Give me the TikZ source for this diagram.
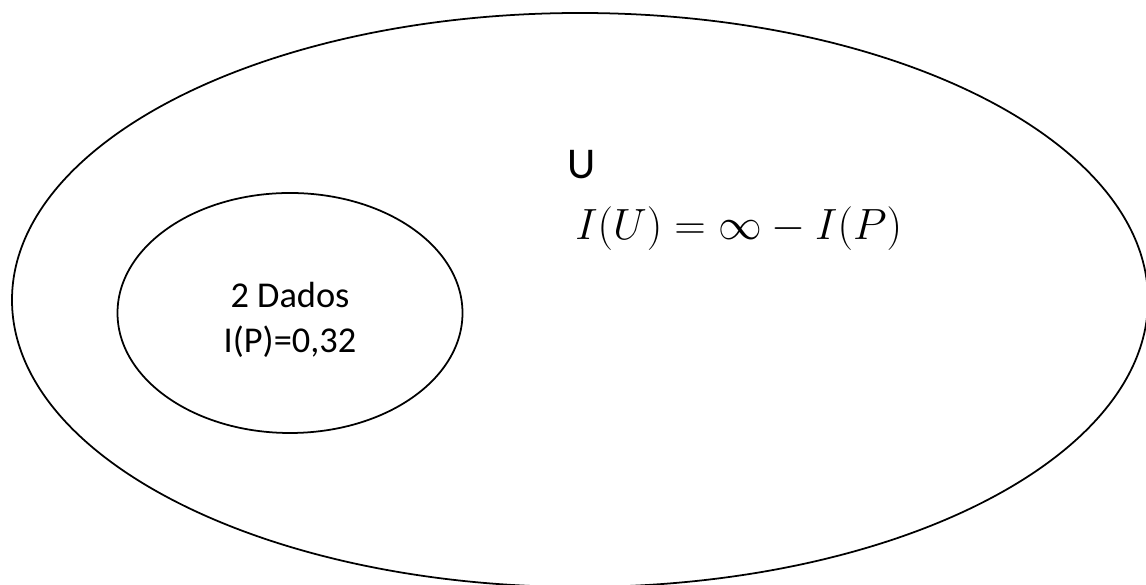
\documentclass[tikz,border=0pt]{standalone}
\usepackage{fontspec}
\setmainfont{Carlito}
\usetikzlibrary{shapes.geometric}

\begin{document}
\begin{tikzpicture}[every node/.style={font=\fontsize{20.7}{25.5}\selectfont},
        set/.style={draw=black, line width=1pt, ellipse, inner sep=0pt}]
      \useasboundingbox (0,0) rectangle (22.92,11.7);
      \node[set, minimum width=22.72cm, minimum height=11.48cm] (U) at (11.6,5.7) {};
      \node[set, minimum width=6.9cm, minimum height=4.8cm] (P) at (5.8,5.44) {};
      \node[align=center] (Ptext) at (5.8,5.3) {2 Dados\\I(P)=0,32};
      \node[anchor=west, font=\fontsize{25}{30}\selectfont, inner sep=0pt] (Ulabel) at (11.34,8.4) {U};
      \node[anchor=base west, font=\fontsize{28.6}{34}\selectfont, inner sep=0pt] (Uinfo) at (11.5,6.9) {$I(U) = \infty - I(P)$};
    \end{tikzpicture}
\end{document}
